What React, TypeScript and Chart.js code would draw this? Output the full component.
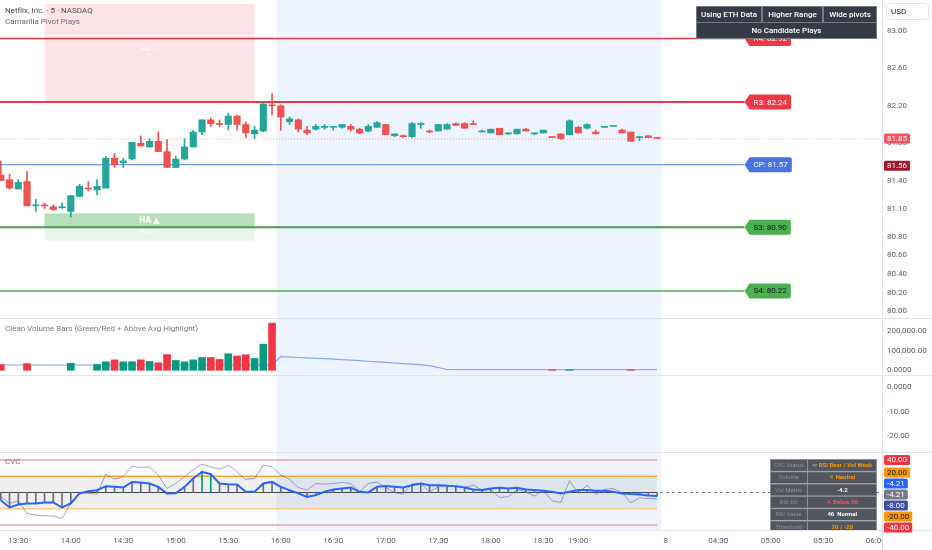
import React, { useEffect, useRef } from 'react';
import { Chart, registerables } from 'chart.js';

Chart.register(...registerables);

const FONT = 'Roboto, "Noto Sans", "DejaVu Sans", sans-serif';

// ---------------- DATA ----------------
const xTickIndex = [2, 8, 14, 20, 26, 32, 38, 44, 50, 56, 62, 66, 76, 82, 88, 94, 100];
const xTickLabels = ['13:30', '14:00', '14:30', '15:00', '15:30', '16:00', '16:30', '17:00', '17:30', '18:00', '18:30', '19:00', '8', '04:30', '05:00', '05:30', '06:00'];

const opens = [81.46, 81.41, 81.31, 81.39, 81.13, 81.14, 81.12, 81.11, 81.07, 81.23, 81.32, 81.30, 81.32, 81.64, 81.59, 81.63, 81.80, 81.76, 81.82, 81.71, 81.54, 81.63, 81.76, 81.92, 82.05, 82.01, 82.00, 82.09, 82.00, 81.90, 81.93, 82.21, 82.20, 82.03, 82.05, 81.94, 81.95, 81.97, 81.97, 81.97, 81.98, 81.95, 81.93, 81.97, 82.00, 81.88, 81.88, 81.87, 82.00, 81.93, 81.93, 81.95, 82.01, 82.01, 82.01, 81.92, 81.91, 81.96, 81.90, 81.90, 81.95, 81.90, 81.91, 81.87, 81.90, 81.89, 81.97, 81.96, 81.92, 81.97, 81.98, 81.94, 81.92, 81.86, 81.88, 81.86];
const highs = [81.61, 81.47, 81.41, 81.50, 81.20, 81.16, 81.14, 81.16, 81.24, 81.36, 81.39, 81.41, 81.66, 81.69, 81.64, 81.81, 81.88, 81.85, 81.92, 81.84, 81.66, 81.85, 81.94, 82.05, 82.07, 82.05, 82.12, 82.10, 82.03, 81.98, 82.24, 82.33, 82.21, 82.08, 82.06, 81.98, 82.00, 82.00, 81.98, 82.00, 82.00, 81.96, 82.00, 82.03, 82.00, 81.90, 81.89, 82.02, 82.02, 81.94, 82.00, 82.01, 82.02, 82.02, 82.04, 81.94, 81.95, 81.96, 81.91, 81.95, 81.96, 81.91, 81.94, 81.87, 81.90, 82.05, 81.98, 82.01, 81.94, 81.98, 81.99, 81.95, 81.92, 81.87, 81.88, 81.86];
const lows = [81.40, 81.31, 81.31, 81.13, 81.07, 81.10, 81.08, 81.10, 81.01, 81.23, 81.29, 81.25, 81.32, 81.54, 81.54, 81.62, 81.77, 81.76, 81.71, 81.54, 81.54, 81.62, 81.76, 81.89, 81.98, 81.98, 81.94, 81.94, 81.86, 81.85, 81.92, 82.10, 81.94, 82.00, 81.92, 81.89, 81.94, 81.95, 81.94, 81.96, 81.93, 81.90, 81.92, 81.97, 81.89, 81.87, 81.86, 81.86, 81.96, 81.91, 81.93, 81.95, 81.99, 81.96, 82.00, 81.92, 81.91, 81.89, 81.89, 81.90, 81.93, 81.89, 81.91, 81.86, 81.84, 81.89, 81.91, 81.95, 81.90, 81.97, 81.98, 81.91, 81.82, 81.83, 81.86, 81.85];
const closes = [81.40, 81.32, 81.38, 81.13, 81.14, 81.13, 81.09, 81.12, 81.24, 81.34, 81.31, 81.34, 81.64, 81.57, 81.61, 81.81, 81.77, 81.82, 81.71, 81.54, 81.63, 81.76, 81.92, 82.05, 82.01, 82.00, 82.09, 82.00, 81.91, 81.94, 82.22, 82.20, 82.08, 82.06, 81.95, 81.91, 81.98, 81.98, 81.98, 82.00, 81.95, 81.91, 81.98, 82.02, 81.89, 81.90, 81.87, 82.01, 82.01, 81.92, 82.00, 82.00, 81.99, 81.96, 82.00, 81.93, 81.95, 81.89, 81.91, 81.95, 81.93, 81.91, 81.94, 81.86, 81.85, 82.04, 81.91, 82.00, 81.90, 81.98, 81.98, 81.91, 81.82, 81.87, 81.86, 81.85];

const volumes = [29000, null, null, 34000, null, null, null, null, 36000, null, null, 29000, 43000, 53000, 43000, 43000, 53000, 45000, 38000, 80000, 50000, 43000, 53000, 65000, 65000, 55000, 84000, 73000, 79000, 60000, 133000, 240000,
  null, null, null, null, null, null, null, null, null, null, null, null, null, null, null, null, null, null, null, null, null, null, null, null, null, null, null, null, null, null, null, 2500, null, 2500, null, null, null, null, null, null, 2500, null, null, null];
const volumeAvg = [27000, 27000, 27000, 27000, 27000, 27000, 27000, 27000, 27000, 27000, 27000, 27000, 27000, 27000, 27000, 27000, 27000, 27000, 27000, 27000, 27000, 27000, 27000, 27000, 27000, 27000, 27000, 27000, 27000, 27000, 27000, 27000,
  69000, 67000, 65000, 63000, 61000, 59000, 57000, 54000, 52000, 49000, 46000, 43000, 40000, 37000, 34000, 31000, 28000, 24000, 14000, 4000, 3000, 3000, 3000, 3000, 3000, 3000, 3000, 3000, 3000, 3000, 3000, 3000, 3000, 3000, 3000, 3000, 3000, 3000, 3000, 3000, 3000, 3000, 3000, 3000];

const cvcValues = [-9.5, -18.5, -14.8, -13.5, -13.5, -12.3, -12.3, -18.5, -13.5, -1.2, 1.6, 2.8, 7.7, 6.9, 6.0, 13.0, 12.3, 11.0, 6.9, -1.2, -1.0, 6.9, 17.2, 25.4, 22.5, 11.0, 10.2, 9.8, 0.8, 0.8, 11.0, 13.0, 6.9, 2.8, -1.2, -5.4, -3.3, 0.8, 3.7, 4.9, 6.2, 0.8, 0.0, 7.0, 7.8, 7.0, 6.2, 9.0, 11.0, 9.0, 9.0, 8.2, 7.8, 6.2, 3.7, 2.9, 4.9, 5.7, 4.9, 5.7, 3.7, 2.9, 2.0, 0.8, -1.2, 0.8, 2.9, 2.9, 2.0, 2.0, 0.8, -1.2, -2.0, -2.5, -3.7, -4.21];
const rsiValues = [-5.4, -13.5, -10.2, -25.8, -27.9, -28.7, -29.0, -32.0, -13.5, -0.4, -1.2, -2.0, 22.5, 16.4, 19.3, 32.4, 30.8, 31.6, 21.3, 4.9, 11.0, 19.3, 28.3, 34.8, 31.6, 28.7, 33.6, 25.4, 16.0, 17.2, 33.6, 31.6, 21.3, 16.0, 6.1, 2.8, 11.0, 10.2, 11.0, 12.3, 11.0, 0.8, 11.0, 13.0, 6.2, -0.4, -2.0, 11.0, 11.0, 0.8, 7.0, 9.0, 7.0, 6.2, 9.0, 2.9, 3.7, -6.2, -5.3, 3.7, 0.8, -4.5, 2.9, -10.3, -12.3, 14.4, -1.2, 9.0, -2.5, 3.7, 4.9, -0.4, -12.7, -6.6, -7.4, -8.0];

const pivotLabels = ['R4', 'R3', 'CP', 'S3', 'S4'];
const pivotValues = [82.92, 82.24, 81.57, 80.90, 80.22];

const priceTicks = [83.0, 82.6, 82.2, 81.8, 81.4, 81.1, 80.8, 80.6, 80.4, 80.2, 80.0];
const volumeTicks = [200000, 100000, 0];
const volumeTickLabels = ['200,000.00', '100,000.00', '0.0000'];
const emptyTicks = [0, -10, -20];
const emptyTickLabels = ['0.0000', '-10.00', '-20.00'];
const cvcLevels = [40, 20, -20, -40];

const lastPrice = 81.85;
const prevClose = 81.56;
const sessionBand = [31.5, 75.5];
const haBoxRange = [5, 29];
const haBear = [83.29, 82.24];
const haBull = [81.05, 80.90, 80.76];
const pivotLabelOffset = 10;

const topTableRow1 = ['Using ETH Data', 'Higher Range', 'Wide pivots'];
const topTableRow2 = 'No Candidate Plays';
const statusKeys = ['CVC Status', 'Volume', 'Vol Metric', 'RSI Dir', 'RSI Value', 'Threshold'];
const statusValues = ['↔ RSI Bear / Vol Weak', '✕ Neutral', '-4.2', '✕ Below 50', '46  Normal', '20 / -20'];
const statusColors = ['#ff9800', '#ff9800', '#ffffff', '#ff5252', '#ffffff', '#ff9800'];

// ---------------- STYLE ----------------
const UP = '#26a69a';
const DOWN = '#ef5350';
const VUP = '#089981';
const VDOWN = '#f23645';
const BORDER = '#e0e3eb';
const AXIS_TEXT = '#5d606b';
const BAND = '#edf4fd';
const X_MIN = -0.0914;
const X_MAX = 100.71;

function rr(ctx: CanvasRenderingContext2D, x: number, y: number, w: number, h: number, r: number) {
  ctx.beginPath();
  ctx.moveTo(x + r, y);
  ctx.arcTo(x + w, y, x + w, y + h, r);
  ctx.arcTo(x + w, y + h, x, y + h, r);
  ctx.arcTo(x, y + h, x, y, r);
  ctx.arcTo(x, y, x + w, y, r);
  ctx.closePath();
}

function resolve(ys: number[], h: number): number[] {
  const order = ys.map((_, i) => i).sort((a, b) => ys[a] - ys[b]);
  const groups: { m: number[]; c: number }[] = [];
  for (const i of order) {
    groups.push({ m: [i], c: ys[i] });
    while (groups.length > 1) {
      const g = groups[groups.length - 1];
      const p = groups[groups.length - 2];
      const pBottom = p.c + (p.m.length * h) / 2;
      const gTop = g.c - (g.m.length * h) / 2;
      if (gTop < pBottom) {
        const m = p.m.concat(g.m);
        const c = m.reduce((s, k) => s + ys[k], 0) / m.length;
        groups.splice(groups.length - 2, 2, { m, c });
      } else break;
    }
  }
  const out: number[] = new Array(ys.length);
  for (const g of groups) {
    const top = g.c - (g.m.length * h) / 2;
    g.m.forEach((k, j) => { out[k] = top + h * (j + 0.5); });
  }
  return out;
}

function axisPills(ctx: CanvasRenderingContext2D, chart: any, items: { v: number; text: string; bg: string; fg: string }[]) {
  const y = chart.scales.y;
  const desired = items.map((it) => y.getPixelForValue(it.v));
  const pos = resolve(desired, 11);
  const x = chart.chartArea.right + 2;
  ctx.save();
  ctx.font = `8px ${FONT}`;
  ctx.textBaseline = 'middle';
  ctx.textAlign = 'left';
  items.forEach((it, i) => {
    const w = ctx.measureText(it.text).width + 6;
    rr(ctx, x, pos[i] - 5, w, 10, 1.5);
    ctx.fillStyle = it.bg;
    ctx.fill();
    ctx.fillStyle = it.fg;
    ctx.fillText(it.text, x + 3, pos[i] + 0.5);
  });
  ctx.restore();
}

function axisTicks(ctx: CanvasRenderingContext2D, chart: any, values: number[], labels: string[]) {
  const y = chart.scales.y;
  ctx.save();
  ctx.font = `8px ${FONT}`;
  ctx.fillStyle = AXIS_TEXT;
  ctx.textBaseline = 'middle';
  ctx.textAlign = 'left';
  values.forEach((v, i) => ctx.fillText(labels[i], chart.chartArea.right + 5, y.getPixelForValue(v)));
  ctx.restore();
}

function frame(ctx: CanvasRenderingContext2D, chart: any, top: boolean, bottom: boolean) {
  const a = chart.chartArea;
  ctx.save();
  ctx.strokeStyle = BORDER;
  ctx.lineWidth = 1;
  ctx.beginPath();
  ctx.moveTo(a.right + 0.5, 0);
  ctx.lineTo(a.right + 0.5, chart.height);
  if (top) { ctx.moveTo(0, 0.5); ctx.lineTo(chart.width, 0.5); }
  if (bottom) { ctx.moveTo(0, a.bottom + 0.5); ctx.lineTo(chart.width, a.bottom + 0.5); }
  ctx.stroke();
  ctx.restore();
}

function band(ctx: CanvasRenderingContext2D, chart: any) {
  const x = chart.scales.x;
  const a = chart.chartArea;
  const x0 = x.getPixelForValue(sessionBand[0]);
  const x1 = x.getPixelForValue(sessionBand[1]);
  ctx.save();
  ctx.fillStyle = BAND;
  ctx.fillRect(x0, a.top, x1 - x0, a.bottom - a.top);
  ctx.restore();
}

function hLine(ctx: CanvasRenderingContext2D, x0: number, x1: number, y: number, color: string, w: number, dash: number[] = []) {
  ctx.save();
  ctx.strokeStyle = color;
  ctx.lineWidth = w;
  ctx.setLineDash(dash);
  ctx.beginPath();
  ctx.moveTo(x0, y);
  ctx.lineTo(x1, y);
  ctx.stroke();
  ctx.restore();
}

const baseOptions = (yMin: number, yMax: number, bottomPad = 0): any => ({
  animation: false,
  responsive: false,
  events: [],
  layout: { padding: { left: 0, right: 50, top: 0, bottom: bottomPad } },
  plugins: { legend: { display: false }, tooltip: { enabled: false } },
  scales: {
    x: { type: 'linear', min: X_MIN, max: X_MAX, offset: false, display: false },
    y: { type: 'linear', min: yMin, max: yMax, display: false },
  },
});

function mainConfig(): any {
  const colors = closes.map((c, i) => (c >= opens[i] ? UP : DOWN));
  const lastIdx = closes.length - 1;
  const pivotColors = ['#f23645', '#f23645', '#4a72e0', '#4caf50', '#4caf50'];
  const pivotLineColors = ['#f23645', '#f23645', '#5b83e8', '#43a047', '#4caf50'];
  const pivotWidths = [1.5, 2, 1, 2, 1.5];
  const pivotText = ['#ffffff', '#ffffff', '#ffffff', '#131722', '#131722'];
  const plugin = {
    id: 'mainDeco',
    beforeDatasetsDraw(chart: any) {
      const ctx = chart.ctx;
      const x = chart.scales.x;
      const y = chart.scales.y;
      const a = chart.chartArea;
      band(ctx, chart);
      const bx0 = x.getPixelForValue(haBoxRange[0]);
      const bx1 = x.getPixelForValue(haBoxRange[1]);
      const cx = (bx0 + bx1) / 2;
      ctx.save();
      ctx.fillStyle = 'rgba(242,54,69,0.13)';
      const pt = y.getPixelForValue(haBear[0]);
      const pb = y.getPixelForValue(haBear[1]);
      ctx.fillRect(bx0, pt, bx1 - bx0, pb - pt);
      const g0 = y.getPixelForValue(haBull[0]);
      const g1 = y.getPixelForValue(haBull[1]);
      const g2 = y.getPixelForValue(haBull[2]);
      ctx.fillStyle = 'rgba(76,175,80,0.4)';
      ctx.fillRect(bx0, g0, bx1 - bx0, g1 - g0);
      ctx.fillStyle = 'rgba(76,175,80,0.12)';
      ctx.fillRect(bx0, g1, bx1 - bx0, g2 - g1);
      ctx.textAlign = 'center';
      ctx.textBaseline = 'middle';
      ctx.font = `bold 7px ${FONT}`;
      ctx.fillStyle = 'rgba(255,255,255,0.85)';
      ctx.fillText('HA ✓', cx, pt + (pb - pt) * 0.46);
      ctx.font = `bold 8.5px ${FONT}`;
      ctx.fillStyle = '#ffffff';
      ctx.fillText('HA ▲', cx, (g0 + g1) / 2 + 0.5);
      ctx.font = `bold 7px ${FONT}`;
      ctx.fillStyle = 'rgba(255,255,255,0.7)';
      ctx.fillText('HA ✕', cx, g1 + 5);
      ctx.restore();
      const tip = x.getPixelForValue(lastIdx + pivotLabelOffset);
      pivotValues.forEach((v, i) => hLine(ctx, a.left, tip, y.getPixelForValue(v), pivotLineColors[i], pivotWidths[i]));
      hLine(ctx, a.left, a.right, y.getPixelForValue(lastPrice) + 0.5, 'rgba(242,54,69,0.45)', 1, [1, 2]);
    },
    afterDatasetsDraw(chart: any) {
      const ctx = chart.ctx;
      const x = chart.scales.x;
      const y = chart.scales.y;
      const a = chart.chartArea;
      const tip = x.getPixelForValue(lastIdx + pivotLabelOffset);
      ctx.save();
      ctx.font = `8px ${FONT}`;
      ctx.textBaseline = 'middle';
      ctx.textAlign = 'center';
      pivotValues.forEach((v, i) => {
        const py = y.getPixelForValue(v);
        const text = `${pivotLabels[i]}: ${v.toFixed(2)}`;
        const w = ctx.measureText(text).width + 8;
        const h = 15;
        const b0 = tip + 5;
        const r = 2;
        ctx.beginPath();
        ctx.moveTo(tip, py);
        ctx.lineTo(b0, py - h / 2);
        ctx.lineTo(b0 + w - r, py - h / 2);
        ctx.arcTo(b0 + w, py - h / 2, b0 + w, py - h / 2 + r, r);
        ctx.lineTo(b0 + w, py + h / 2 - r);
        ctx.arcTo(b0 + w, py + h / 2, b0 + w - r, py + h / 2, r);
        ctx.lineTo(b0, py + h / 2);
        ctx.closePath();
        ctx.fillStyle = pivotColors[i];
        ctx.fill();
        ctx.fillStyle = pivotText[i];
        ctx.fillText(text, b0 + w / 2, py + 0.5);
      });
      ctx.restore();

      // titles
      ctx.save();
      ctx.textAlign = 'left';
      ctx.textBaseline = 'middle';
      ctx.font = `8px ${FONT}`;
      ctx.fillStyle = '#4a4d57';
      ctx.fillText('Netflix, Inc. · 5 · NASDAQ', 5, 10.5);
      ctx.fillStyle = '#6a6d78';
      ctx.fillText('Camarilla Pivot Plays', 5, 22);
      ctx.restore();

      // top table
      ctx.save();
      const tr = a.right - 5;
      const colW = [66, 61, 54];
      const total = colW.reduce((s, w) => s + w, 0);
      const tl = tr - total;
      const r1 = 6, rh = 16.5;
      ctx.fillStyle = '#787b86';
      ctx.fillRect(tl, r1, total, rh * 2);
      ctx.fillStyle = '#363a45';
      let cxp = tl;
      ctx.font = `500 8px ${FONT}`;
      ctx.textAlign = 'center';
      ctx.textBaseline = 'middle';
      colW.forEach((w) => {
        ctx.fillStyle = '#363a45';
        ctx.fillRect(cxp + 1, r1 + 1, w - 2, rh - 1.5);
        cxp += w;
      });
      ctx.fillRect(tl + 1, r1 + rh + 0.5, total - 2, rh - 1.5);
      ctx.fillStyle = '#ffffff';
      cxp = tl;
      colW.forEach((w, i) => {
        ctx.fillText(topTableRow1[i], cxp + w / 2, r1 + rh / 2 + 0.5);
        cxp += w;
      });
      ctx.fillText(topTableRow2, tl + total / 2, r1 + rh * 1.5);
      ctx.restore();

      // axis
      frame(ctx, chart, false, false);
      axisTicks(ctx, chart, priceTicks, priceTicks.map((v) => v.toFixed(2)));
      axisPills(ctx, chart, [
        { v: lastPrice, text: lastPrice.toFixed(2), bg: '#f7525f', fg: '#ffffff' },
        { v: prevClose, text: prevClose.toFixed(2), bg: '#a3192b', fg: '#ffffff' },
      ]);
      ctx.save();
      rr(ctx, a.right + 4.5, 3.5, 42, 16, 3);
      ctx.fillStyle = '#ffffff';
      ctx.fill();
      ctx.strokeStyle = BORDER;
      ctx.lineWidth = 1;
      ctx.stroke();
      ctx.fillStyle = '#131722';
      ctx.font = `8px ${FONT}`;
      ctx.textBaseline = 'middle';
      ctx.fillText('USD', a.right + 9, 11.5);
      ctx.restore();
    },
  };
  return {
    type: 'bar',
    data: {
      datasets: [
        { type: 'bar', data: highs.map((h, i) => ({ x: i, y: [lows[i], h] })), backgroundColor: colors, barThickness: 1, grouped: false, order: 2 },
        { type: 'bar', data: opens.map((o, i) => ({ x: i, y: [o, closes[i]] })), backgroundColor: colors, barThickness: 6.5, minBarLength: 1, grouped: false, order: 1 },
      ],
    },
    options: baseOptions(79.93, 83.332),
    plugins: [plugin],
  };
}

function volumeConfig(): any {
  const pts = volumes.map((v, i) => ({ x: i, y: v })).filter((p) => p.y !== null);
  const colors = pts.map((p) => (closes[p.x] >= opens[p.x] ? VUP : VDOWN));
  const plugin = {
    id: 'volDeco',
    beforeDatasetsDraw(chart: any) { band(chart.ctx, chart); },
    afterDatasetsDraw(chart: any) {
      const ctx = chart.ctx;
      frame(ctx, chart, true, false);
      axisTicks(ctx, chart, volumeTicks, volumeTickLabels);
      ctx.save();
      ctx.font = `8px ${FONT}`;
      ctx.fillStyle = '#787b86';
      ctx.textBaseline = 'middle';
      ctx.fillText('Clean Volume Bars (Green/Red + Above Avg Highlight)', 5, 11);
      ctx.restore();
    },
  };
  return {
    type: 'bar',
    data: {
      datasets: [
        { type: 'bar', data: pts, backgroundColor: colors, barThickness: 7, grouped: false, order: 1 },
        { type: 'line', data: volumeAvg.map((v, i) => ({ x: i, y: v })), borderColor: '#86a6f2', borderWidth: 1.2, pointRadius: 0, order: 2 },
      ],
    },
    options: baseOptions(-24000, 266000),
    plugins: [plugin],
  };
}

function emptyConfig(): any {
  const plugin = {
    id: 'emptyDeco',
    beforeDatasetsDraw(chart: any) { band(chart.ctx, chart); },
    afterDatasetsDraw(chart: any) {
      frame(chart.ctx, chart, true, false);
      axisTicks(chart.ctx, chart, emptyTicks, emptyTickLabels);
    },
  };
  return {
    type: 'line',
    data: { datasets: [{ data: [] }] },
    options: baseOptions(-26.5, 4.9),
    plugins: [plugin],
  };
}

function cvcConfig(): any {
  const lastIdx = cvcValues.length - 1;
  const levelColors = ['rgba(242,54,69,0.45)', '#f7a531', '#f9c98a', 'rgba(242,54,69,0.45)'];
  const plugin = {
    id: 'cvcDeco',
    beforeDatasetsDraw(chart: any) {
      const ctx = chart.ctx;
      const x = chart.scales.x;
      const y = chart.scales.y;
      const a = chart.chartArea;
      band(ctx, chart);
      const x0 = a.left;
      const x1 = x.getPixelForValue(lastIdx);
      ctx.save();
      ctx.fillStyle = 'rgba(120,123,134,0.12)';
      const t = y.getPixelForValue(cvcLevels[1]);
      const b = y.getPixelForValue(cvcLevels[2]);
      ctx.fillRect(x0, t, x1 - x0, b - t);
      ctx.restore();
      cvcLevels.forEach((v, i) => hLine(ctx, x0, x1, y.getPixelForValue(v), levelColors[i], 1.5));
      const zy = Math.round(y.getPixelForValue(0)) + 0.5;
      hLine(ctx, a.left, a.right, zy, '#787b86', 1, [3, 3]);
      hLine(ctx, x0, x1, zy, '#434651', 1);
    },
    afterDatasetsDraw(chart: any) {
      const ctx = chart.ctx;
      const x = chart.scales.x;
      const a = chart.chartArea;
      // status table
      ctx.save();
      ctx.beginPath();
      ctx.rect(0, 0, a.right, a.bottom);
      ctx.clip();
      const tr = a.right - 5;
      const tl = tr - 107;
      const split = tl + 37.5;
      const top = 7;
      const rh = 12.3;
      statusKeys.forEach((k, i) => {
        const ry = top + i * rh;
        ctx.fillStyle = 'rgba(120,123,134,0.85)';
        ctx.fillRect(tl, ry, tr - tl, rh);
        ctx.fillStyle = 'rgba(74,77,87,0.88)';
        ctx.fillRect(tl + 1, ry + 1, split - tl - 1.5, rh - 1.5);
        ctx.fillRect(split + 0.5, ry + 1, tr - split - 1.5, rh - 1.5);
        ctx.textBaseline = 'middle';
        ctx.textAlign = 'center';
        ctx.font = `6px ${FONT}`;
        ctx.fillStyle = '#8e919b';
        ctx.fillText(k, (tl + split) / 2, ry + rh / 2 + 0.5);
        ctx.font = `bold 6px ${FONT}`;
        ctx.fillStyle = statusColors[i];
        ctx.fillText(statusValues[i], (split + tr) / 2, ry + rh / 2 + 0.5);
      });
      ctx.restore();

      ctx.save();
      ctx.font = `8px ${FONT}`;
      ctx.fillStyle = '#787b86';
      ctx.textBaseline = 'middle';
      ctx.fillText('CVC', 5, 10);
      ctx.restore();

      frame(ctx, chart, true, true);
      axisPills(ctx, chart, [
        { v: cvcLevels[0], text: cvcLevels[0].toFixed(2), bg: '#f23645', fg: '#ffffff' },
        { v: cvcLevels[1], text: cvcLevels[1].toFixed(2), bg: '#ff9800', fg: '#131722' },
        { v: cvcValues[lastIdx], text: cvcValues[lastIdx].toFixed(2), bg: '#2962ff', fg: '#ffffff' },
        { v: cvcValues[lastIdx], text: cvcValues[lastIdx].toFixed(2), bg: '#787b86', fg: '#ffffff' },
        { v: rsiValues[lastIdx], text: rsiValues[lastIdx].toFixed(2), bg: '#3f51a5', fg: '#ffffff' },
        { v: cvcLevels[2], text: cvcLevels[2].toFixed(2), bg: '#ff9800', fg: '#131722' },
        { v: cvcLevels[3], text: cvcLevels[3].toFixed(2), bg: '#f23645', fg: '#ffffff' },
      ]);

      // time axis labels
      ctx.save();
      ctx.beginPath();
      ctx.rect(0, a.bottom, a.right, chart.height - a.bottom);
      ctx.clip();
      ctx.font = `8px ${FONT}`;
      ctx.fillStyle = AXIS_TEXT;
      ctx.textAlign = 'center';
      ctx.textBaseline = 'middle';
      xTickIndex.forEach((v, i) => ctx.fillText(xTickLabels[i], x.getPixelForValue(v), a.bottom + 11));
      ctx.restore();
    },
  };
  return {
    type: 'bar',
    data: {
      datasets: [
        { type: 'bar', data: cvcValues.map((v, i) => ({ x: i, y: v })), backgroundColor: cvcValues.map((v) => (v > cvcLevels[1] ? '#089981' : '#6a6d78')), barThickness: 1, grouped: false, order: 3 },
        { type: 'line', data: rsiValues.map((v, i) => ({ x: i, y: v })), borderColor: 'rgba(103,96,178,0.6)', borderWidth: 1, pointRadius: 0, order: 2 },
        { type: 'line', data: cvcValues.map((v, i) => ({ x: i, y: v })), borderColor: '#2962ff', borderWidth: 2, pointRadius: 0, order: 1 },
      ],
    },
    options: baseOptions(-46.2, 49.8, 20),
    plugins: [plugin],
  };
}

export default function App() {
  const mainRef = useRef<HTMLCanvasElement>(null);
  const volRef = useRef<HTMLCanvasElement>(null);
  const emptyRef = useRef<HTMLCanvasElement>(null);
  const cvcRef = useRef<HTMLCanvasElement>(null);

  useEffect(() => {
    const charts: Chart[] = [];
    if (mainRef.current) charts.push(new Chart(mainRef.current, mainConfig()));
    if (volRef.current) charts.push(new Chart(volRef.current, volumeConfig()));
    if (emptyRef.current) charts.push(new Chart(emptyRef.current, emptyConfig()));
    if (cvcRef.current) charts.push(new Chart(cvcRef.current, cvcConfig()));
    return () => charts.forEach((c) => c.destroy());
  }, []);

  const cs = (top: number): React.CSSProperties => ({ position: 'absolute', left: 0, top, display: 'block' });
  return (
    <div style={{ position: 'absolute', left: 0, top: 0, width: 932, height: 550, background: '#ffffff', overflow: 'hidden' }}>
      <canvas ref={mainRef} width={932} height={318} style={{ ...cs(0), width: 932, height: 318 }} />
      <canvas ref={volRef} width={932} height={57} style={{ ...cs(318), width: 932, height: 57 }} />
      <canvas ref={emptyRef} width={932} height={77} style={{ ...cs(375), width: 932, height: 77 }} />
      <canvas ref={cvcRef} width={932} height={98} style={{ ...cs(452), width: 932, height: 98 }} />
    </div>
  );
}
